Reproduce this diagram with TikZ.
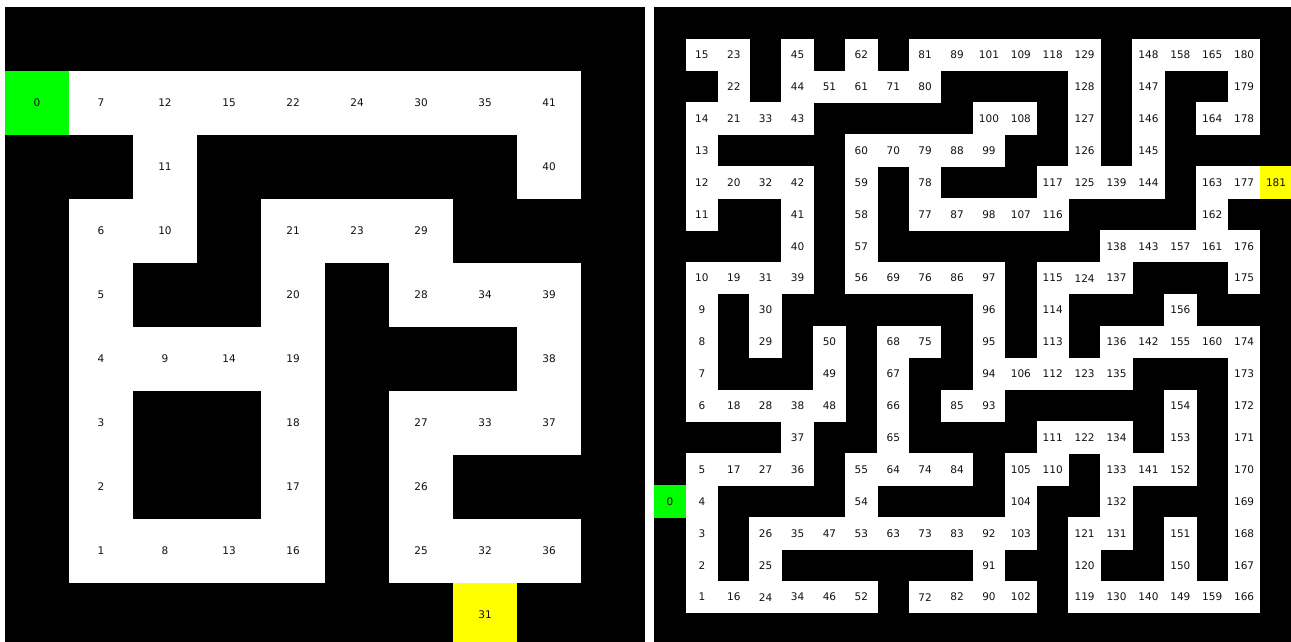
\documentclass[tikz,border=0pt]{standalone}
\usepackage{fontspec}
\setmainfont{DejaVu Sans}
\usetikzlibrary{positioning}
\definecolor{wall}{HTML}{000000}
\definecolor{floor}{HTML}{FFFFFF}
\definecolor{start}{HTML}{00FF00}
\definecolor{goal}{HTML}{FFFF00}
\definecolor{num}{HTML}{111111}

\begin{document}
\begin{tikzpicture}[x=1pt,y=-1pt,font=\fontsize{10.5}{12}\selectfont,
  bigcell/.style={inner sep=0,text=num,minimum size=64.5pt},
  smallcell/.style={inner sep=0,text=num,minimum size=32.4pt}]
\path[use as bounding box] (0,0) rectangle (1291,641);
\clip (0,0) rectangle (1291,641);
\fill[white] (0,0) rectangle (1291,641);
% 10x10 maze
\begin{scope}[shift={(5pt,-7pt)},x=64pt,y=-64pt]
\fill[wall] (0,0) rectangle (10,10);
\foreach \col/\row/\n in {1/1/7,2/1/12,3/1/15,4/1/22,5/1/24,6/1/30,7/1/35,8/1/41,
  2/2/11,8/2/40,1/3/6,2/3/10,4/3/21,5/3/23,6/3/29,1/4/5,4/4/20,6/4/28,7/4/34,8/4/39,
  1/5/4,2/5/9,3/5/14,4/5/19,8/5/38,1/6/3,4/6/18,6/6/27,7/6/33,8/6/37,1/7/2,4/7/17,6/7/26,
  1/8/1,2/8/8,3/8/13,4/8/16,6/8/25,7/8/32,8/8/36}
  \node[bigcell,fill=floor] (l\n) at (\col+.5,\row+.5) {\n};
\node[bigcell,fill=start] (l0) at (.5,1.5) {0};
\node[bigcell,fill=goal] (l31) at (7.5,9.5) {31};
\end{scope}
% 20x20 maze
\begin{scope}[shift={(654pt,-7pt)},x=31.9pt,y=-31.9pt]
\fill[wall] (0,0) rectangle (20,20);
\foreach \col/\row/\n in {1/1/15,2/1/23,4/1/45,6/1/62,8/1/81,9/1/89,10/1/101,11/1/109,12/1/118,13/1/129,15/1/148,16/1/158,17/1/165,18/1/180,
  2/2/22,4/2/44,5/2/51,6/2/61,7/2/71,8/2/80,13/2/128,15/2/147,18/2/179,
  1/3/14,2/3/21,3/3/33,4/3/43,10/3/100,11/3/108,13/3/127,15/3/146,17/3/164,18/3/178,
  1/4/13,6/4/60,7/4/70,8/4/79,9/4/88,10/4/99,13/4/126,15/4/145,
  1/5/12,2/5/20,3/5/32,4/5/42,6/5/59,8/5/78,12/5/117,13/5/125,14/5/139,15/5/144,17/5/163,18/5/177,
  1/6/11,4/6/41,6/6/58,8/6/77,9/6/87,10/6/98,11/6/107,12/6/116,17/6/162,
  4/7/40,6/7/57,14/7/138,15/7/143,16/7/157,17/7/161,18/7/176,
  1/8/10,2/8/19,3/8/31,4/8/39,6/8/56,7/8/69,8/8/76,9/8/86,10/8/97,12/8/115,13/8/124,14/8/137,18/8/175,
  1/9/9,3/9/30,10/9/96,12/9/114,16/9/156,
  1/10/8,3/10/29,5/10/50,7/10/68,8/10/75,10/10/95,12/10/113,14/10/136,15/10/142,16/10/155,17/10/160,18/10/174,
  1/11/7,5/11/49,7/11/67,10/11/94,11/11/106,12/11/112,13/11/123,14/11/135,18/11/173,
  1/12/6,2/12/18,3/12/28,4/12/38,5/12/48,7/12/66,9/12/85,10/12/93,16/12/154,18/12/172,
  4/13/37,7/13/65,12/13/111,13/13/122,14/13/134,16/13/153,18/13/171,
  1/14/5,2/14/17,3/14/27,4/14/36,6/14/55,7/14/64,8/14/74,9/14/84,11/14/105,12/14/110,14/14/133,15/14/141,16/14/152,18/14/170,
  1/15/4,6/15/54,11/15/104,14/15/132,18/15/169,
  1/16/3,3/16/26,4/16/35,5/16/47,6/16/53,7/16/63,8/16/73,9/16/83,10/16/92,11/16/103,13/16/121,14/16/131,16/16/151,18/16/168,
  1/17/2,3/17/25,10/17/91,13/17/120,16/17/150,18/17/167,
  1/18/1,2/18/16,3/18/24,4/18/34,5/18/46,6/18/52,8/18/72,9/18/82,10/18/90,11/18/102,13/18/119,14/18/130,15/18/140,16/18/149,17/18/159,18/18/166}
  \node[smallcell,fill=floor] (r\n) at (\col+.5,\row+.5) {\n};
\node[smallcell,fill=start] (r0) at (.5,15.5) {0};
\node[smallcell,fill=goal] (r181) at (19.5,5.5) {181};
\end{scope}
\end{tikzpicture}
\end{document}
